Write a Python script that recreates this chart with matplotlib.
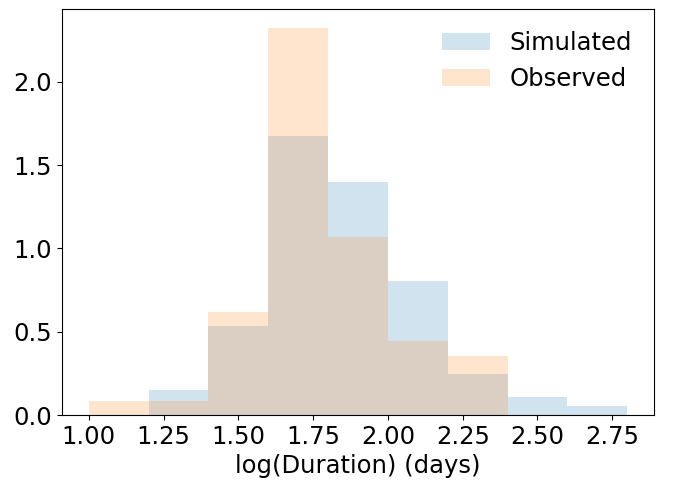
import numpy as np
import matplotlib
matplotlib.use("Agg")
import matplotlib.pyplot as plt

# Histogram bin edges in log10(duration / days)
bin_edges = [1.0, 1.2, 1.4, 1.6, 1.8, 2.0, 2.2, 2.4, 2.6, 2.8]

# Normalised densities per bin
simulated_density = [0.0, 0.152, 0.535, 1.674, 1.400, 0.807, 0.248, 0.108, 0.056]
observed_density = [0.086, 0.086, 0.621, 2.322, 1.071, 0.445, 0.354, 0.0, 0.0]

plt.rcParams['font.family'] = ['DejaVu Sans']
plt.rcParams['font.size'] = 17.5

fig, ax = plt.subplots(figsize=(6.8, 4.8), dpi=100)
fig.subplots_adjust(left=0.091, right=0.962, top=0.982, bottom=0.135)

centers = [(a + b) / 2 for a, b in zip(bin_edges[:-1], bin_edges[1:])]
ax.hist(centers, bins=bin_edges, weights=simulated_density,
        color='C0', alpha=0.2, label='Simulated')
ax.hist(centers, bins=bin_edges, weights=observed_density,
        color='C1', alpha=0.2, label='Observed')

ax.set_xticks([1.0, 1.25, 1.5, 1.75, 2.0, 2.25, 2.5, 2.75])
ax.set_yticks([0.0, 0.5, 1.0, 1.5, 2.0])
ax.set_xlabel('log(Duration) (days)')
ax.legend(frameon=False, loc='upper right')

fig.savefig('out.png', dpi=100)
